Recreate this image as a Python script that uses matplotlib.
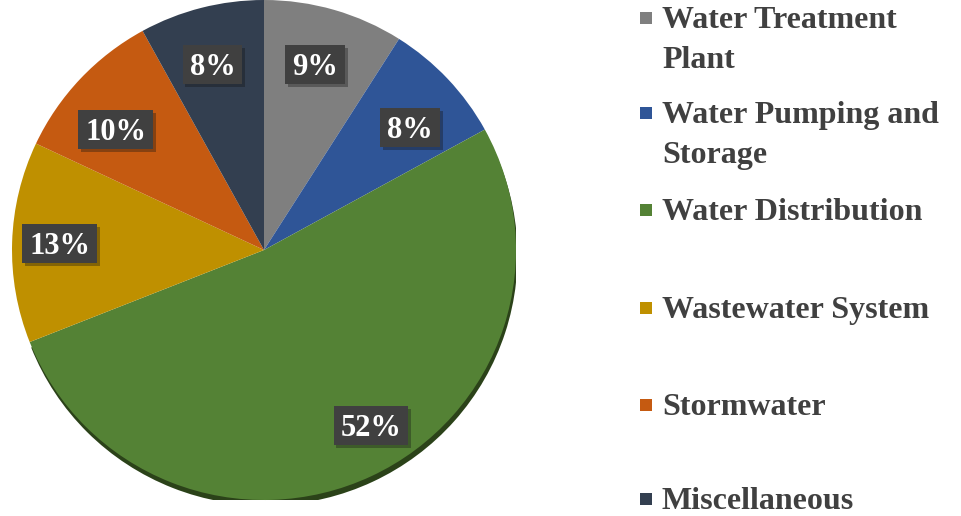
import textwrap
import matplotlib
matplotlib.use("Agg")
import matplotlib.pyplot as plt
import matplotlib.patheffects as pe
import matplotlib.transforms as mtransforms
from matplotlib.patches import Rectangle, Wedge
import numpy as np

categories = ["Water Treatment Plant", "Water Pumping and Storage", "Water Distribution",
              "Wastewater System", "Stormwater", "Miscellaneous"]
values = [9, 8, 52, 13, 10, 8]
colors = ["#7F7F7F", "#2F5597", "#548235", "#BF9000", "#C55A11", "#333F50"]

# label placement style (distance from centre, angle nudge in degrees)
label_dist = [0.77, 0.76, 0.82, 0.81, 0.76, 0.77]
label_nudge = [1, -3, 6, 0, 4, 1]

W, H = 962, 516
fig = plt.figure(figsize=(W / 100, H / 100), dpi=100)
fig.patch.set_facecolor("white")

cx, cy, rx, ry = 264, 250, 252, 250
ax = fig.add_axes([(cx - rx) / W, (H - cy - ry) / H, 2 * rx / W, 2 * ry / H])

wedges, _ = ax.pie(values, colors=colors, startangle=90, counterclock=False,
                   radius=1.0, wedgeprops=dict(linewidth=0))
ax.set_aspect("auto")
ax.set_xlim(-1, 1)
ax.set_ylim(-1, 1)
ax.axis("off")

# soft 3D shadow under the large slice
g = wedges[2]
sh = Wedge((0.006, -0.022), 1.0, g.theta1, g.theta2, facecolor="#2B4219", linewidth=0, zorder=0)
ax.add_patch(sh)
for w in wedges:
    w.set_zorder(1)

total = sum(values)
down = mtransforms.offset_copy(ax.transData, fig=fig, x=0, y=-10.3, units="dots")
label_items = []
for w, v, d, nd in zip(wedges, values, label_dist, label_nudge):
    ang = np.deg2rad((w.theta1 + w.theta2) / 2 + nd)
    x, y = d * np.cos(ang), d * np.sin(ang)
    t = ax.text(x, y, f"{round(100 * v / total)}%", ha="center", va="baseline",
                color="white", fontsize=22, fontweight="bold", family="Liberation Serif",
                zorder=6, transform=down, clip_on=False)
    label_items.append((t, x, y))

fig.canvas.draw()
for t, x, y in label_items:
    bb = t.get_window_extent()
    px, py = ax.transData.transform((x, y))
    bw, bh = bb.width + 14, 39
    r = Rectangle((px - bw / 2, py - bh / 2), bw, bh, transform=mtransforms.IdentityTransform(),
                  facecolor="#404040", edgecolor="none", zorder=4, clip_on=False)
    r.set_path_effects([pe.SimplePatchShadow(offset=(2, -2), alpha=0.35), pe.Normal()])
    ax.add_artist(r)

# legend
item_baselines = [28, 123, 220, 318, 415, 509]
line_gap = 40
sq = 12
for name, col, base in zip(categories, colors, item_baselines):
    lines = textwrap.wrap(name, 18)
    yc = base - 10
    fig.patches.append(Rectangle(((646 - sq / 2) / W, (H - yc - sq / 2) / H), sq / W, sq / H,
                                 transform=fig.transFigure, facecolor=col, edgecolor="none"))
    for i, ln in enumerate(lines):
        fig.text(662 / W, (H - base - i * line_gap) / H, ln, ha="left", va="baseline",
                 fontsize=23, fontweight="bold", family="Liberation Serif", color="#404040")

fig.savefig("out.png", dpi=100)
